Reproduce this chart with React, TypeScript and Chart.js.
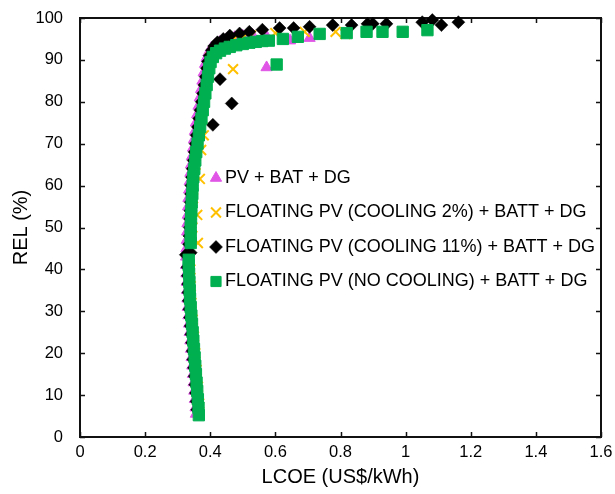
import React, { useEffect, useRef } from 'react';
import { Chart, registerables } from 'chart.js';
import { drawPoint } from 'chart.js/helpers';

Chart.register(...registerables);

// ---------- data ----------
const seriesLabels = [
  'PV + BAT + DG',
  'FLOATING PV (COOLING 2%) + BATT + DG',
  'FLOATING PV (COOLING 11%) + BATT + DG',
  'FLOATING PV (NO COOLING) + BATT + DG',
];

const xTickLabels = ['0', '0.2', '0.4', '0.6', '0.8', '1', '1.2', '1.4', '1.6'];
const yTickLabels = ['0', '10', '20', '30', '40', '50', '60', '70', '80', '90', '100'];

const pvLcoe = [0.356, 0.355, 0.353, 0.351, 0.349, 0.347, 0.345, 0.343, 0.341, 0.339, 0.337, 0.335, 0.333, 0.331, 0.330, 0.329, 0.328, 0.327, 0.326, 0.326, 0.327, 0.328, 0.329, 0.330, 0.331, 0.332, 0.333, 0.335, 0.337, 0.339, 0.341, 0.344, 0.347, 0.350, 0.353, 0.356, 0.360, 0.364, 0.368, 0.372, 0.376, 0.380, 0.384, 0.389, 0.395, 0.403, 0.415, 0.430, 0.450, 0.475, 0.500, 0.530, 0.570, 0.645, 0.705, 0.573];
const pvRel = [5.5, 7, 9, 11, 13, 15, 17, 19, 21, 23, 25, 27, 29, 31, 33, 35, 37, 39, 41, 43, 45, 47, 49, 51, 53, 55, 57, 59, 61, 63, 65, 67, 69, 71, 73, 75, 77, 79, 81, 83, 85, 87, 89, 90.5, 91.8, 92.8, 93.6, 94.3, 94.9, 95.4, 95.7, 95.9, 96.0, 94.6, 95.2, 88.2];

const cool2Lcoe = [0.366, 0.362, 0.358, 0.354, 0.350, 0.346, 0.342, 0.340, 0.339, 0.362, 0.345, 0.360, 0.347, 0.368, 0.355, 0.372, 0.380, 0.375, 0.382, 0.388, 0.394, 0.400, 0.410, 0.425, 0.445, 0.470, 0.500, 0.525, 0.560, 0.600, 0.690, 0.785, 0.815, 0.470];
const cool2Rel = [8, 12, 16, 20, 24, 28, 32, 36, 40, 46.3, 50, 53, 57, 61.6, 65, 68.5, 72, 76, 80, 84, 88, 90.5, 92, 93.2, 94.1, 94.8, 95.3, 95.8, 96.1, 96.4, 96.7, 96.7, 96.2, 87.8];

const cool11Lcoe = [0.360, 0.358, 0.356, 0.354, 0.352, 0.350, 0.348, 0.346, 0.344, 0.342, 0.340, 0.338, 0.336, 0.334, 0.333, 0.332, 0.331, 0.330, 0.325, 0.340, 0.335, 0.336, 0.337, 0.338, 0.339, 0.340, 0.341, 0.342, 0.344, 0.346, 0.349, 0.352, 0.355, 0.358, 0.362, 0.366, 0.370, 0.374, 0.378, 0.382, 0.386, 0.390, 0.393, 0.398, 0.405, 0.412, 0.422, 0.440, 0.460, 0.490, 0.520, 0.560, 0.613, 0.656, 0.705, 0.776, 0.834, 0.883, 0.899, 0.941, 1.051, 1.082, 1.110, 1.162, 0.430, 0.466, 0.408];
const cool11Rel = [6.5, 8.5, 10.5, 12.5, 14.5, 16.5, 18.5, 20.5, 22.5, 24.5, 26.5, 28.5, 30.5, 32.5, 34.5, 36.5, 38.5, 40.5, 43.5, 44, 46, 48, 50, 52, 54, 56, 58, 60, 62, 64, 66, 68, 70, 72, 74, 76, 78, 80, 82, 84, 86, 88, 89.6, 91, 92.3, 93.3, 94.2, 95.0, 95.8, 96.3, 96.7, 97.2, 97.6, 97.6, 97.9, 98.3, 98.3, 98.6, 98.6, 98.6, 99.0, 99.5, 98.3, 99.0, 85.4, 79.6, 74.5];

const noCoolLcoe = [0.365, 0.364, 0.362, 0.360, 0.358, 0.356, 0.354, 0.352, 0.350, 0.348, 0.346, 0.344, 0.342, 0.340, 0.338, 0.337, 0.336, 0.335, 0.334, 0.334, 0.340, 0.340, 0.340, 0.341, 0.342, 0.343, 0.345, 0.346, 0.348, 0.351, 0.354, 0.357, 0.361, 0.365, 0.369, 0.373, 0.377, 0.381, 0.385, 0.389, 0.393, 0.397, 0.401, 0.408, 0.418, 0.430, 0.445, 0.460, 0.480, 0.500, 0.520, 0.540, 0.560, 0.580, 0.623, 0.669, 0.736, 0.819, 0.880, 0.929, 0.991, 1.067, 0.604];
const noCoolRel = [5.2, 7, 9, 11, 13, 15, 17, 19, 21, 23, 25, 27, 29, 31, 33, 35, 37, 39, 41, 42.3, 46.3, 48, 50, 52, 54, 56, 58, 60, 62, 64, 66, 68, 70, 72, 74, 76, 78, 80, 82, 84, 86, 88, 89.5, 90.7, 91.6, 92.2, 92.7, 93.1, 93.5, 93.8, 94.1, 94.3, 94.5, 94.6, 95.0, 95.5, 96.2, 96.4, 96.7, 96.7, 96.7, 97.1, 88.9];

// ---------- styles ----------
const FONT = "'Liberation Sans', Arial, sans-serif";
const MAGENTA = '#E055E6';
const ORANGE = '#FFC000';
const BLACK = '#000000';
const GREEN = '#00B050';

const zip = (xs: number[], ys: number[]) => xs.map((x, i) => ({ x, y: ys[i] }));

const markerStyles = [
  { pointStyle: 'triangle', radius: 6.5, fill: MAGENTA, stroke: MAGENTA, borderWidth: 1 },
  { pointStyle: 'crossRot', radius: 7, fill: ORANGE, stroke: ORANGE, borderWidth: 2 },
  { pointStyle: 'rectRot', radius: 6.5, fill: BLACK, stroke: BLACK, borderWidth: 0.5 },
  { pointStyle: 'rect', radius: 8, fill: GREEN, stroke: GREEN, borderWidth: 1 },
];

const framePlugin = {
  id: 'frameTicks',
  beforeDatasetsDraw(chart: any) {
    const { ctx, chartArea, scales } = chart;
    const { left, right, top, bottom } = chartArea;
    const x = scales.x;
    const y = scales.y;
    ctx.save();
    ctx.strokeStyle = '#111';
    ctx.lineWidth = 1.5;
    ctx.beginPath();
    x.ticks.forEach((t: any) => {
      const px = Math.round(x.getPixelForValue(t.value)) + 0.5;
      ctx.moveTo(px, bottom);
      ctx.lineTo(px, bottom - 5);
      ctx.moveTo(px, top);
      ctx.lineTo(px, top + 5);
    });
    y.ticks.forEach((t: any) => {
      const py = Math.round(y.getPixelForValue(t.value)) + 0.5;
      ctx.moveTo(left, py);
      ctx.lineTo(left + 5, py);
      ctx.moveTo(right, py);
      ctx.lineTo(right - 5, py);
    });
    ctx.stroke();
    ctx.lineWidth = 2;
    ctx.strokeRect(left, top, right - left, bottom - top);
    ctx.restore();
  },
};

const legendPlugin = {
  id: 'innerLegend',
  afterDraw(chart: any) {
    const { ctx } = chart;
    ctx.save();
    ctx.font = `18px ${FONT}`;
    ctx.textBaseline = 'middle';
    ctx.textAlign = 'left';
    seriesLabels.forEach((label, i) => {
      const cy = 178 + i * 34.5;
      const m = markerStyles[i];
      ctx.fillStyle = m.fill;
      ctx.strokeStyle = m.stroke;
      ctx.lineWidth = m.borderWidth;
      const r = i === 3 ? 7.2 : m.radius;
      drawPoint(ctx, { pointStyle: m.pointStyle as any, radius: r, rotation: 0, borderWidth: m.borderWidth }, 216, cy);
      ctx.fillStyle = '#000';
      ctx.fillText(label, 225, cy);
    });
    ctx.restore();
  },
};

export default function App() {
  const canvasRef = useRef<HTMLCanvasElement | null>(null);

  useEffect(() => {
    document.body.style.margin = '0';
    const canvas = canvasRef.current;
    if (!canvas) return;

    const seriesData = [
      zip(pvLcoe, pvRel),
      zip(cool2Lcoe, cool2Rel),
      zip(cool11Lcoe, cool11Rel),
      zip(noCoolLcoe, noCoolRel),
    ];
    const drawOrder = [4, 3, 2, 1];

    const chart = new Chart(canvas, {
      type: 'scatter',
      data: {
        datasets: seriesData.map((d, i) => ({
          label: seriesLabels[i],
          data: d,
          pointStyle: markerStyles[i].pointStyle as any,
          pointRadius: markerStyles[i].radius,
          pointBackgroundColor: markerStyles[i].fill,
          pointBorderColor: markerStyles[i].stroke,
          pointBorderWidth: markerStyles[i].borderWidth,
          order: drawOrder[i],
          clip: false as any,
        })),
      },
      options: {
        animation: false,
        responsive: false,
        maintainAspectRatio: false,
        events: [],
        layout: { padding: { top: 18, right: 14, left: 0, bottom: 0 } },
        plugins: {
          legend: { display: false },
          tooltip: { enabled: false },
        },
        scales: {
          x: {
            type: 'linear',
            min: 0,
            max: 1.6,
            grid: { display: false, drawTicks: false },
            border: { display: false },
            ticks: {
              stepSize: 0.2,
              padding: 6,
              color: '#000',
              font: { family: FONT, size: 16.5 },
              callback: (_v: any, i: number) => xTickLabels[i],
            },
            title: {
              display: true,
              text: 'LCOE (US$/kWh)',
              color: '#000',
              font: { family: FONT, size: 20 },
              padding: { top: 0, bottom: 5 },
            },
            afterFit: (s: any) => {
              s.height = 57;
              s.paddingLeft = 0;
              s.paddingRight = 0;
            },
          },
          y: {
            type: 'linear',
            min: 0,
            max: 100,
            grid: { display: false, drawTicks: false },
            border: { display: false },
            ticks: {
              stepSize: 10,
              padding: 17,
              color: '#000',
              font: { family: FONT, size: 16.5 },
              callback: (_v: any, i: number) => yTickLabels[i],
            },
            title: {
              display: true,
              text: 'REL (%)',
              color: '#000',
              font: { family: FONT, size: 20 },
              padding: { top: 9, bottom: 0 },
            },
            afterFit: (s: any) => {
              s.width = 80;
              s.paddingTop = 0;
              s.paddingBottom = 0;
            },
          },
        },
      },
      plugins: [framePlugin, legendPlugin],
    });

    return () => chart.destroy();
  }, []);

  return (
    <div style={{ width: 615, height: 494 }}>
      <canvas ref={canvasRef} width={615} height={494} style={{ display: 'block' }} />
    </div>
  );
}
